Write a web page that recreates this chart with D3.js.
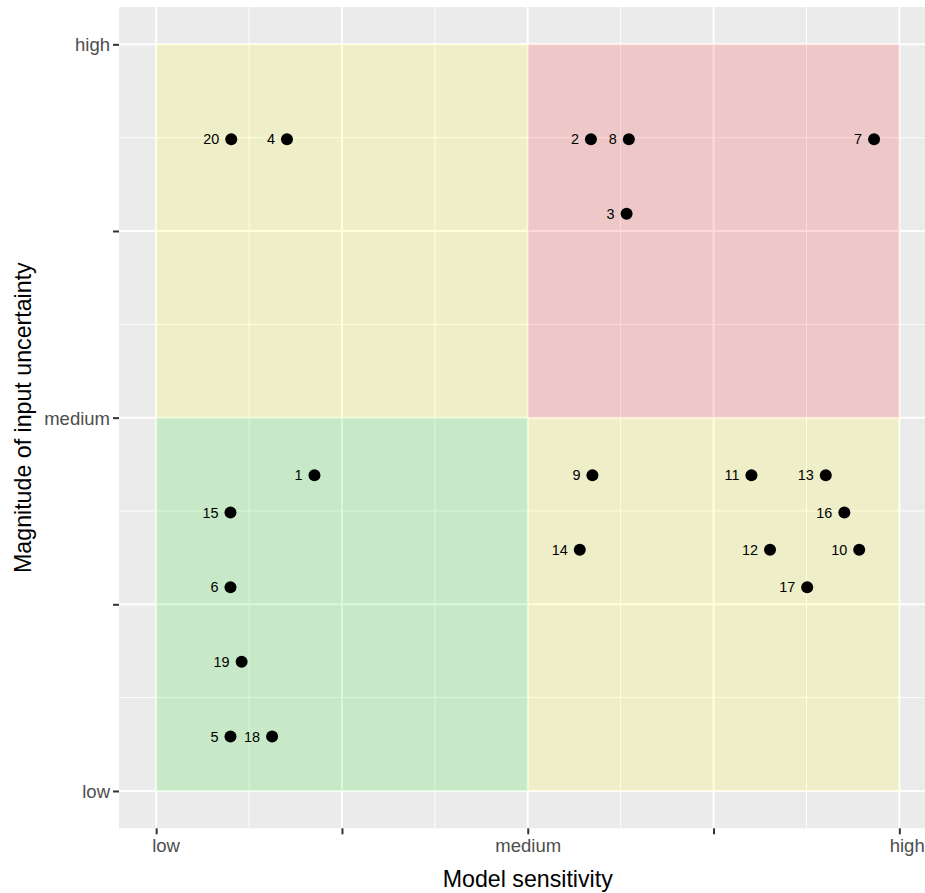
<!DOCTYPE html>
<html>
<head>
<meta charset="utf-8">
<script src="https://cdn.jsdelivr.net/npm/d3@7"></script>
<style>
  html, body { margin: 0; padding: 0; background: #fff; }
  svg { display: block; font-family: "Liberation Sans", Arial, Helvetica, sans-serif; }
</style>
</head>
<body>
<svg id="chart" width="925" height="893"></svg>
<script>
// ---- data ----
const ids = [1, 2, 3, 4, 5, 6, 7, 8, 9, 10, 11, 12, 13, 14, 15, 16, 17, 18, 19, 20];
const sensitivity = [0.213, 0.585, 0.633, 0.176, 0.100, 0.100, 0.966, 0.636, 0.587, 0.946,
                     0.801, 0.826, 0.901, 0.570, 0.100, 0.926, 0.876, 0.156, 0.115, 0.101];
const uncertainty = [0.423, 0.873, 0.773, 0.873, 0.073, 0.273, 0.873, 0.873, 0.423, 0.323,
                     0.423, 0.323, 0.423, 0.323, 0.373, 0.373, 0.273, 0.073, 0.173, 0.873];
const tickValues = [0, 0.25, 0.5, 0.75, 1];
const tickLabels = ["low", "", "medium", "", "high"];
const minorValues = [0.125, 0.375, 0.625, 0.875];
const zoneX0 = [0, 0.5, 0, 0.5];
const zoneX1 = [0.5, 1, 0.5, 1];
const zoneY0 = [0.5, 0.5, 0, 0];
const zoneY1 = [1, 1, 0.5, 0.5];
const zoneColor = ["yellow", "red", "#00e000", "yellow"];

const points = ids.map((id, i) => ({ id, x: sensitivity[i], y: uncertainty[i] }));
const zones = zoneX0.map((x0, i) => ({ x0, x1: zoneX1[i], y0: zoneY0[i], y1: zoneY1[i], c: zoneColor[i] }));

// ---- layout ----
const svg = d3.select("#chart");
const panel = { left: 119, right: 936.5, top: 7, bottom: 828.3 };
const x = d3.scaleLinear().domain([-0.05, 1.05]).range([panel.left, panel.right]);
const y = d3.scaleLinear().domain([-0.05, 1.05]).range([panel.bottom, panel.top]);

// panel background
svg.append("rect")
  .attr("x", panel.left).attr("y", panel.top)
  .attr("width", panel.right - panel.left).attr("height", panel.bottom - panel.top)
  .attr("fill", "#EBEBEB");

const grid = svg.append("g");
// minor grid
minorValues.forEach(v => {
  grid.append("line").attr("x1", x(v)).attr("x2", x(v)).attr("y1", panel.top).attr("y2", panel.bottom)
    .attr("stroke", "#fff").attr("stroke-width", 1);
  grid.append("line").attr("y1", y(v)).attr("y2", y(v)).attr("x1", panel.left).attr("x2", panel.right)
    .attr("stroke", "#fff").attr("stroke-width", 1);
});
// major grid
tickValues.forEach(v => {
  grid.append("line").attr("x1", x(v)).attr("x2", x(v)).attr("y1", panel.top).attr("y2", panel.bottom)
    .attr("stroke", "#fff").attr("stroke-width", 2);
  grid.append("line").attr("y1", y(v)).attr("y2", y(v)).attr("x1", panel.left).attr("x2", panel.right)
    .attr("stroke", "#fff").attr("stroke-width", 2);
});

// zones
svg.append("g").selectAll("rect").data(zones).join("rect")
  .attr("x", d => x(d.x0)).attr("y", d => y(d.y1))
  .attr("width", d => x(d.x1) - x(d.x0)).attr("height", d => y(d.y0) - y(d.y1))
  .attr("fill", d => d.c).attr("fill-opacity", 0.15);

// points
svg.append("g").selectAll("circle").data(points).join("circle")
  .attr("cx", d => x(d.x)).attr("cy", d => y(d.y)).attr("r", 6)
  .attr("fill", "#000");

svg.append("g").selectAll("text").data(points).join("text")
  .attr("x", d => x(d.x) - 12).attr("y", d => y(d.y))
  .attr("dy", "0.36em")
  .attr("text-anchor", "end")
  .attr("font-size", 14.4)
  .attr("fill", "#000")
  .text(d => d.id);

// axes
const fmt = (d, i) => tickLabels[i];
const xAxis = svg.append("g").attr("transform", `translate(0,${panel.bottom})`)
  .call(d3.axisBottom(x).tickValues(tickValues).tickFormat(fmt).tickSize(6).tickPadding(3));
const yAxis = svg.append("g").attr("transform", `translate(${panel.left},0)`)
  .call(d3.axisLeft(y).tickValues(tickValues).tickFormat(fmt).tickSize(6).tickPadding(3));

[xAxis, yAxis].forEach(a => {
  a.select(".domain").remove();
  a.selectAll(".tick line").attr("stroke", "#333333").attr("stroke-width", 2);
  a.selectAll(".tick text").attr("fill", "#4D4D4D").attr("font-size", 18.5)
    .attr("font-family", "'Liberation Sans', Arial, Helvetica, sans-serif");
});
yAxis.selectAll(".tick text").attr("dy", "0.35em");
xAxis.selectAll(".tick text").attr("dy", "0.78em").attr("y", 9);

// x tick label horizontal offsets (as in reference)
const xHjust = [0.16, 0.5, 0.5, 0.5, 0.29];
xAxis.selectAll(".tick text").each(function(d, i) {
  const w = this.getComputedTextLength();
  d3.select(this).attr("text-anchor", "start").attr("x", -w * xHjust[i]);
});

// axis titles
svg.append("text")
  .attr("x", (panel.left + panel.right) / 2).attr("y", 887)
  .attr("text-anchor", "middle").attr("font-size", 23.2).attr("fill", "#000")
  .text("Model sensitivity");
svg.append("text")
  .attr("transform", `translate(31,${(panel.top + panel.bottom) / 2}) rotate(-90)`)
  .attr("text-anchor", "middle").attr("font-size", 23.2).attr("fill", "#000")
  .text("Magnitude of input uncertainty");
</script>
</body>
</html>
